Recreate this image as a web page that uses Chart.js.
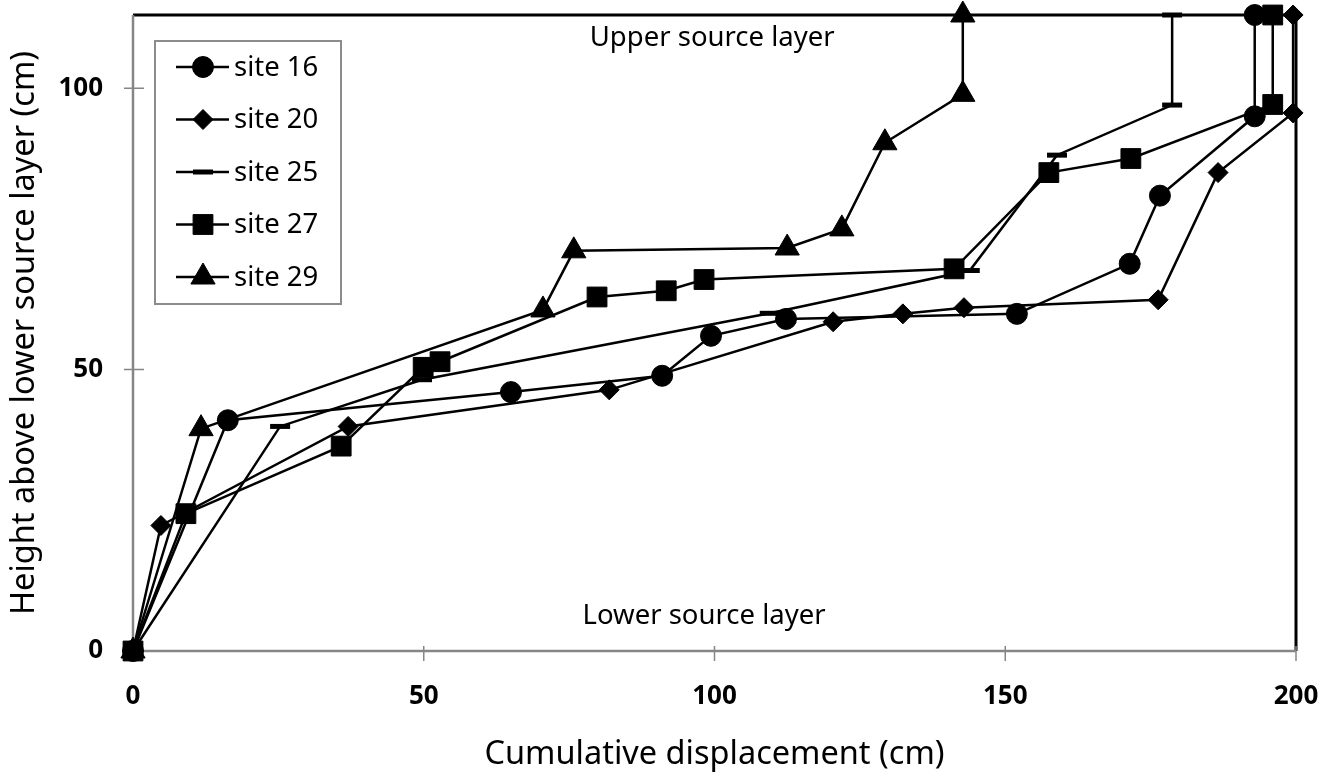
<!DOCTYPE html>
<html>
<head>
<meta charset="utf-8">
<script src="https://cdn.jsdelivr.net/npm/chart.js@4.4.0/dist/chart.umd.min.js"></script>
<style>
    html, body { margin: 0; padding: 0; background: #fff; }
    canvas { display: block; }
</style>
</head>
<body>
<canvas id="displacementChart" width="1324" height="775"></canvas>
<script>
// Dados (x = deslocamento acumulado, y = altura)
const site16X = [0, 16.3, 65.0, 91.0, 99.4, 112.3, 152.0, 171.4, 176.6, 192.9, 192.9];
const site16Y = [0, 41.0, 46.0, 48.9, 56.0, 59.0, 59.9, 68.8, 80.9, 95.0, 113];

const site20X = [0, 4.8, 37.0, 81.9, 120.4, 132.4, 142.9, 176.3, 186.6, 199.5, 199.5];
const site20Y = [0, 22.3, 39.9, 46.4, 58.5, 59.9, 61.0, 62.4, 85.0, 95.6, 113];

const site25X = [0, 25.3, 49.7, 109.5, 143.9, 158.9, 178.7, 178.7];
const site25Y = [0, 39.9, 48.2, 60.0, 67.6, 88.1, 97.0, 113];

const site27X = [0, 9.1, 35.8, 49.9, 52.8, 79.8, 91.7, 98.2, 141.2, 157.5, 171.6, 196.0, 196.0];
const site27Y = [0, 24.4, 36.4, 50.4, 51.4, 62.9, 64.0, 66.0, 67.9, 85.0, 87.5, 97.1, 113];

const site29X = [0, 11.7, 70.5, 75.8, 112.5, 121.9, 129.3, 142.7, 142.7];
const site29Y = [0, 39.5, 60.6, 71.1, 71.6, 75.0, 90.3, 98.9, 113];

const siteNames = ['site 16', 'site 20', 'site 25', 'site 27', 'site 29'];
const xTicks = [0, 50, 100, 150, 200];
const yTicks = [0, 50, 100];

document.addEventListener('DOMContentLoaded', function() {
    const FONT = '"Noto Sans", "Open Sans", sans-serif';

    // Marcadores de cada série
    const markers = [
        { pointStyle: 'circle', radius: 10.5, borderWidth: 1 },
        { pointStyle: 'rectRot', radius: 10, borderWidth: 1 },
        { pointStyle: 'line', radius: 10, borderWidth: 5 },
        { pointStyle: 'rect', radius: 14, borderWidth: 1 },
        { pointStyle: 'triangle', radius: 14, borderWidth: 1 }
    ];

    const seriesX = [site16X, site20X, site25X, site27X, site29X];
    const seriesY = [site16Y, site20Y, site25Y, site27Y, site29Y];

    const datasets = siteNames.map((name, i) => ({
        label: name,
        data: seriesX[i].map((x, j) => ({ x: x, y: seriesY[i][j] })),
        showLine: true,
        borderColor: '#000',
        backgroundColor: '#000',
        borderWidth: 2.5,
        pointStyle: markers[i].pointStyle,
        pointRadius: markers[i].radius,
        pointBorderWidth: markers[i].borderWidth,
        pointBorderColor: '#000',
        pointBackgroundColor: '#000',
        clip: false
    }));

    // Remove o recuo automático que o Chart.js reserva para os rótulos
    const noLabelPadding = scale => {
        scale.paddingTop = 0;
        scale.paddingBottom = 0;
        scale.paddingLeft = 0;
        scale.paddingRight = 0;
    };

    // Eixos, moldura e textos internos
    const framePlugin = {
        id: 'frame',
        beforeDatasetsDraw(chart) {
            const { ctx, chartArea: a, scales: { x, y } } = chart;
            ctx.save();

            // moldura superior e direita
            ctx.strokeStyle = '#000';
            ctx.lineWidth = 3;
            ctx.beginPath();
            ctx.moveTo(a.left, a.top);
            ctx.lineTo(a.right, a.top);
            ctx.lineTo(a.right, a.bottom);
            ctx.stroke();

            // eixos cinza
            ctx.strokeStyle = '#868686';
            ctx.lineWidth = 2.5;
            ctx.beginPath();
            ctx.moveTo(a.left, a.top);
            ctx.lineTo(a.left, a.bottom);
            ctx.lineTo(a.right, a.bottom);
            ctx.stroke();

            // marcas cruzadas
            ctx.lineWidth = 1.5;
            ctx.beginPath();
            xTicks.forEach(v => {
                const px = x.getPixelForValue(v);
                ctx.moveTo(px, a.bottom - 5);
                ctx.lineTo(px, a.bottom + 10);
            });
            yTicks.forEach(v => {
                const py = y.getPixelForValue(v);
                ctx.moveTo(a.left - 9, py);
                ctx.lineTo(a.left + 11, py);
            });
            ctx.stroke();

            // textos das camadas
            ctx.fillStyle = '#000';
            ctx.font = '27.5px ' + FONT;
            ctx.textAlign = 'center';
            ctx.textBaseline = 'middle';
            ctx.fillText('Upper source layer', x.getPixelForValue(99.6), y.getPixelForValue(108.8));
            ctx.fillText('Lower source layer', x.getPixelForValue(98.2), y.getPixelForValue(6.2));
            ctx.restore();
        },
        afterDatasetsDraw(chart) {
            // legenda desenhada manualmente dentro da área do gráfico
            const { ctx } = chart;
            ctx.save();
            ctx.fillStyle = '#fff';
            ctx.fillRect(155, 41, 186, 263);
            ctx.strokeStyle = '#8c8c8c';
            ctx.lineWidth = 2;
            ctx.strokeRect(155, 41, 186, 263);

            chart.data.datasets.forEach((ds, i) => {
                const cy = 67 + i * 52.5;
                ctx.strokeStyle = '#000';
                ctx.lineWidth = 2.5;
                ctx.beginPath();
                ctx.moveTo(176, cy);
                ctx.lineTo(229, cy);
                ctx.stroke();

                ctx.fillStyle = '#000';
                ctx.lineWidth = markers[i].borderWidth;
                Chart.helpers.drawPoint(ctx, {
                    pointStyle: markers[i].pointStyle,
                    radius: markers[i].radius,
                    rotation: 0,
                    borderWidth: markers[i].borderWidth
                }, 203, cy);

                ctx.fillStyle = '#000';
                ctx.font = '27.5px ' + FONT;
                ctx.textAlign = 'left';
                ctx.textBaseline = 'middle';
                ctx.fillText(ds.label, 234, cy + 1);
            });
            ctx.restore();
        }
    };

    new Chart(document.getElementById('displacementChart'), {
        type: 'scatter',
        data: { datasets: datasets },
        options: {
            responsive: false,
            animation: false,
            layout: { padding: { top: 13, right: 28, left: 0, bottom: 0 } },
            plugins: {
                legend: { display: false },
                tooltip: { enabled: false }
            },
            scales: {
                x: {
                    type: 'linear',
                    min: 0,
                    max: 200,
                    afterFit: scale => { scale.height = 124; noLabelPadding(scale); },
                    afterBuildTicks: scale => { scale.ticks = xTicks.map(v => ({ value: v })); },
                    grid: { display: false, drawTicks: false },
                    border: { display: false },
                    ticks: {
                        color: '#000',
                        padding: 30,
                        maxRotation: 0,
                        font: { family: FONT, size: 26, weight: 'bold' }
                    },
                    title: {
                        display: true,
                        text: 'Cumulative displacement (cm)',
                        color: '#000',
                        font: { family: FONT, size: 32.5 },
                        padding: { top: 0, bottom: 1 }
                    }
                },
                y: {
                    type: 'linear',
                    min: 0,
                    max: 113,
                    afterFit: scale => { scale.width = 133; noLabelPadding(scale); },
                    afterBuildTicks: scale => { scale.ticks = yTicks.map(v => ({ value: v })); },
                    grid: { display: false, drawTicks: false },
                    border: { display: false },
                    ticks: {
                        color: '#000',
                        padding: 30,
                        font: { family: FONT, size: 26, weight: 'bold' }
                    },
                    title: {
                        display: true,
                        text: 'Height above lower source layer (cm)',
                        color: '#000',
                        font: { family: FONT, size: 32.5 },
                        padding: { top: 5, bottom: 0 }
                    }
                }
            }
        },
        plugins: [framePlugin]
    });
});
</script>
</body>
</html>
